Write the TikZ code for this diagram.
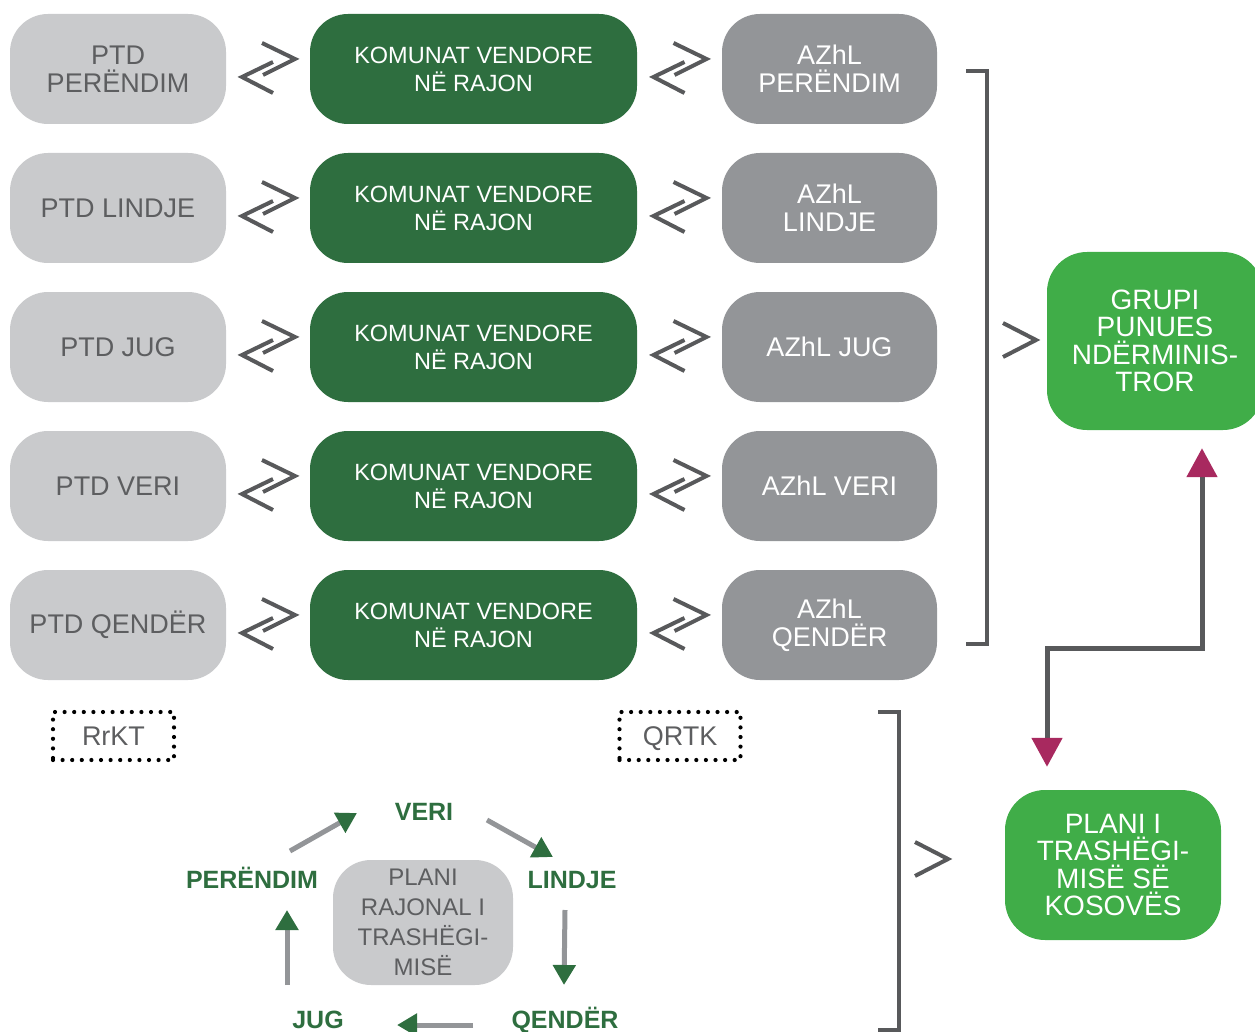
\documentclass[tikz,border=0pt]{standalone}
\usepackage{fontspec}
\setmainfont{Liberation Sans}
\usetikzlibrary{arrows.meta,calc}
\definecolor{lg}{HTML}{C9CACC}
\definecolor{mg}{HTML}{939598}
\definecolor{dg}{HTML}{2E6E3F}
\definecolor{bg}{HTML}{40AD48}
\definecolor{tg}{HTML}{5D5E60}
\definecolor{ln}{HTML}{58595B}
\definecolor{mag}{HTML}{A8295F}
\begin{document}
\begin{tikzpicture}[x=1pt,y=-1pt,
  box/.style={rounded corners=38pt, minimum height=110pt, inner sep=0pt, align=center,
    font=\fontsize{27}{28}\selectfont},
  cone/.style={box, fill=lg, text=tg, minimum width=216pt},
  ctwo/.style={box, fill=dg, text=white, minimum width=327pt, font=\fontsize{23.5}{28}\selectfont},
  cthree/.style={box, fill=mg, text=white, minimum width=215pt},
  bigbox/.style={rounded corners=40pt, inner sep=0pt, align=center, fill=bg, text=white,
    minimum width=216pt, font=\fontsize{28}{27.5}\selectfont},
  sym/.style={draw=ln, line width=4pt, line join=miter},
  brk/.style={draw=ln, line width=4.5pt, line join=miter},
  dotbox/.style={draw=black, dash pattern=on 0pt off 9.6pt, line cap=round, line width=4.2pt,
    minimum width=121pt, minimum height=48pt, inner sep=0pt, text=tg, text height=19pt, text depth=0pt,
    font=\fontsize{27}{28}\selectfont},
  cyc/.style={inner sep=0pt, text=dg, text height=18pt, text depth=0pt, font=\bfseries\fontsize{25}{28}\selectfont},
  carr/.style={draw=mg, line width=5pt, -{Triangle[width=22pt,length=20pt,color=dg]}},
  conn/.style={draw=ln, line width=5pt, line join=miter,
    {Triangle[width=30pt,length=29pt,color=mag]}-{Triangle[width=30pt,length=29pt,color=mag]}},
  dbl/.pic={\draw[sym] (-6,-26) -- (27,-10) -- (-5,6); \draw[sym] (5,-7) -- (-26,8) -- (5,24);},
  gt/.pic={\draw[sym] (-16,-17) -- (17,0) -- (-16,17);}
]
\useasboundingbox (0,0) rectangle (1255,1032);
\clip (0,0) rectangle (1255,1032);

% column 1
\node[cone] (p1) at (118,69) {PTD\\PERËNDIM};
\node[cone] (p2) at (118,208) {PTD LINDJE};
\node[cone] (p3) at (118,347) {PTD JUG};
\node[cone] (p4) at (118,486) {PTD VERI};
\node[cone] (p5) at (118,625) {PTD QENDËR};
% column 2
\foreach \i/\y in {1/69,2/208,3/347,4/486,5/625}
  \node[ctwo] (k\i) at (473.5,\y) {KOMUNAT VENDORE\\NË RAJON};
% column 3
\node[cthree] (a1) at (829.5,69) {AZhL\\PERËNDIM};
\node[cthree] (a2) at (829.5,208) {AZhL\\LINDJE};
\node[cthree] (a3) at (829.5,347) {AZhL JUG};
\node[cthree] (a4) at (829.5,486) {AZhL VERI};
\node[cthree] (a5) at (829.5,625) {AZhL\\QENDËR};

% double arrows
\foreach \i in {1,...,5}{
  \pic at ($(p\i.east)!0.5!(k\i.west)$) {dbl};
  \pic at ($(k\i.east)!0.5!(a\i.west)$) {dbl};
}

% bracket 1 and chevron
\draw[brk] (966,71) -- (987,71) -- (987,644) -- (966,644);
\pic at (1019,340) {gt};

% right boxes
\node[bigbox, minimum height=178pt] (grupi) at (1155,341) {GRUPI\\PUNUES\\NDËRMINIS-\\TROR};
\node[bigbox, minimum height=150pt] (plani) at (1113,865) {PLANI I\\TRASHËGI-\\MISË SË\\KOSOVËS};

% magenta connector
\coordinate (m1) at (1202,648);
\coordinate (m2) at (1047,648);
\draw[conn, shorten <=18pt, shorten >=23pt] (m1 |- grupi.south) -- (m1) -- (m2) -- (m2 |- plani.north);

% dotted boxes
\node[dotbox] (rrkt) at (113.5,736) {RrKT};
\node[dotbox] (qrtk) at (680,736) {QRTK};

% bracket 2 and chevron
\draw[brk] (878,712) -- (899,712) -- (899,1030) -- (878,1030);
\pic at (931,859) {gt};

% cycle
\node[rounded corners=38pt, fill=lg, text=tg, minimum width=180pt, minimum height=125pt,
  inner sep=0pt, align=center, font=\fontsize{24}{30}\selectfont] (plan) at (423,922.5)
  {PLANI\\RAJONAL I\\TRASHËGI-\\MISË};
\node[cyc] (veri) at (424,811) {VERI};
\node[cyc] (peren) at (252,879) {PERËNDIM};
\node[cyc] (lind) at (572,879) {LINDJE};
\node[cyc] (jug) at (318,1019) {JUG};
\node[cyc] (qend) at (565,1019) {QENDËR};

\coordinate (c1s) at (290,851); \coordinate (c1e) at (357,813);
\coordinate (c2s) at (487,820); \coordinate (c2e) at (553,857);
\coordinate (c3s) at (565,910); \coordinate (c3e) at (564,985);
\coordinate (c4s) at (473,1025); \coordinate (c4e) at (397,1025);
\coordinate (c5s) at (287,985); \coordinate (c5e) at (287,910);
\draw[carr] (c1s) -- (c1e);
\draw[carr] (c2s) -- (c2e);
\draw[carr] (c3s) -- (c3e);
\draw[carr] (c4s) -- (c4e);
\draw[carr] (c5s) -- (c5e);
\end{tikzpicture}
\end{document}
